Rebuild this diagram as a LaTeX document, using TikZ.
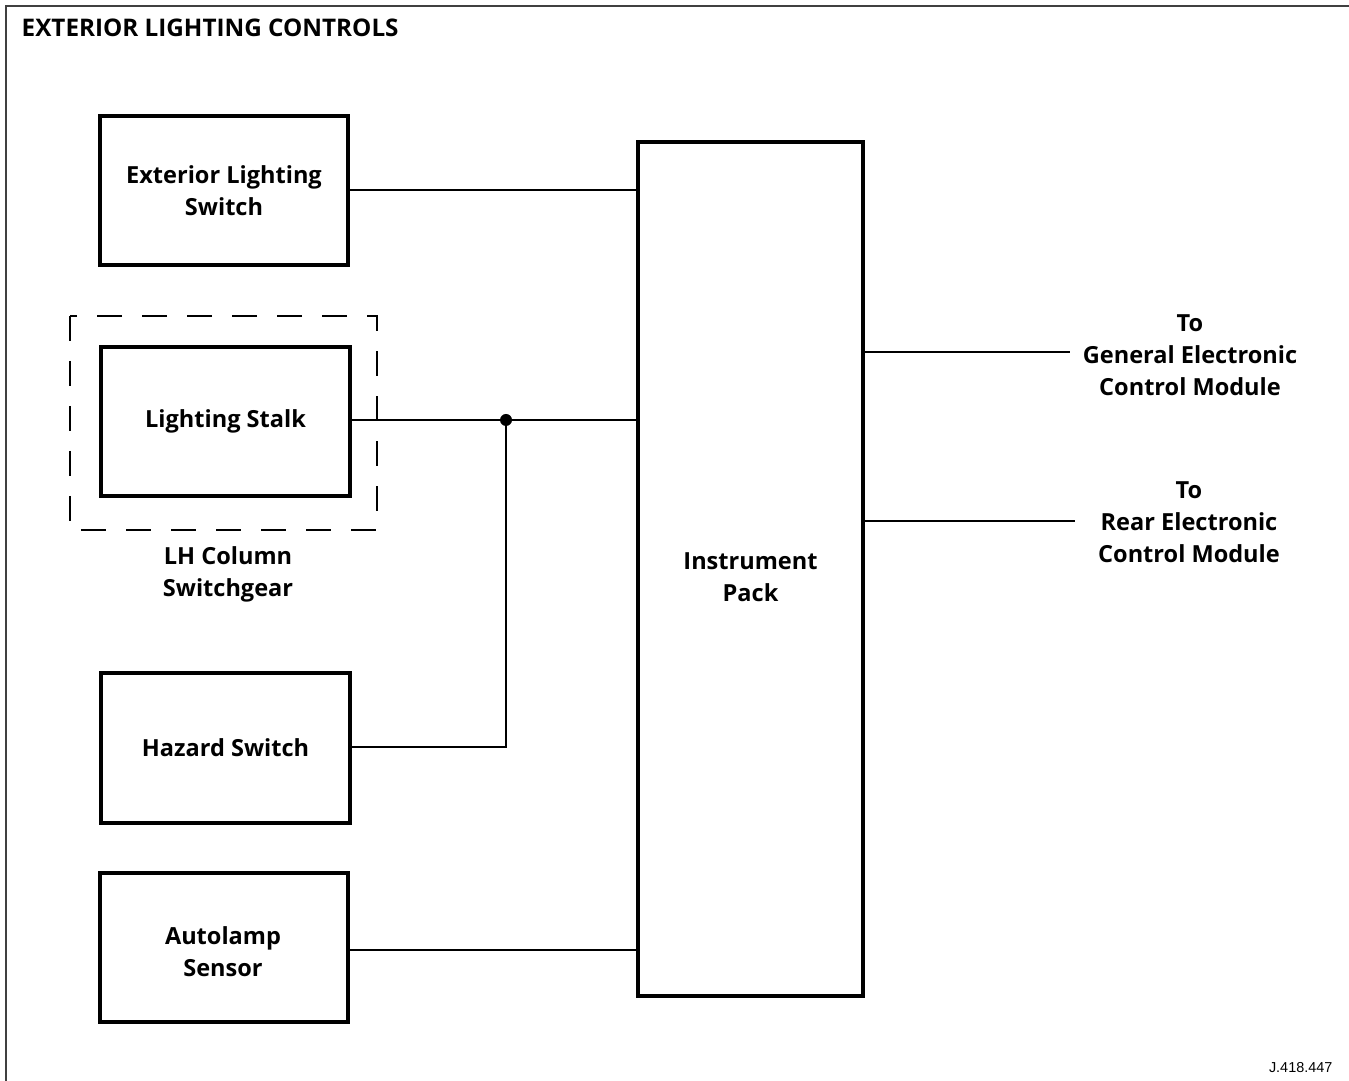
\documentclass[tikz,border=0pt]{standalone}
\usepackage{fontspec}
\setmainfont{Open Sans}[Ligatures=NoCommon]
\newfontfamily\codefont{Liberation Sans}
\usepackage{tikz}

\tikzset{
    caja/.style={draw, line width=0.9pt, minimum width=2.48cm, minimum height=1.49cm,
        align=center, inner sep=0pt, font=\bfseries\fontsize{6.7}{9.1}\selectfont},
    rotulo/.style={align=center, inner sep=0pt, font=\bfseries\fontsize{6.7}{9.1}\selectfont},
    cable/.style={line width=0.55pt}
}

\begin{document}
\begin{tikzpicture}[line join=miter]

\useasboundingbox (0,0) rectangle (13.49,-10.81);

% === MARCO Y TITULO ===
\draw[line width=0.6pt, black!75] (0.06,-10.81) -- (0.06,-0.06) -- (13.49,-0.06);
\node[rotulo, anchor=base west, font=\bfseries\fontsize{6.9}{9}\selectfont] (titulo) at (0.21,-0.37) {EXTERIOR LIGHTING CONTROLS};

% === ENTRADAS (izquierda) ===
\node[caja] (elswitch) at (2.24,-1.905) {Exterior Lighting\\Switch};
\node[caja, minimum width=2.49cm] (stalk) at (2.255,-4.215) {Lighting Stalk};
\node[caja, minimum width=2.49cm, minimum height=1.50cm] (hazard) at (2.255,-7.48) {Hazard Switch};
\node[caja] (autolamp) at (2.24,-9.475) {};
\node[rotulo] (autolamptxt) at (2.23,-9.515) {Autolamp\\Sensor};

% Grupo de la columna (punteado)
\draw[line width=0.6pt, dash pattern=on 0.25cm off 0.2cm] (0.70,-3.16) rectangle (3.77,-5.30);
\node[rotulo] (columna) at (2.28,-5.74) {LH Column\\Switchgear};

% === INSTRUMENT PACK ===
\node[caja, minimum width=2.25cm, minimum height=8.54cm] (ipack) at (7.505,-5.69) {};
\node[rotulo] (ipacktxt) at (7.505,-5.77) {Instrument\\Pack};

% Conexiones
\coordinate (nodo) at (5.06,-4.20);
\draw[cable] (elswitch.east |- 0,-1.90) -- (ipack.west |- 0,-1.90);
\draw[cable] (stalk.east |- nodo) -- (nodo) -- (ipack.west |- nodo);
\draw[cable] (hazard.east |- 0,-7.47) -| (nodo);
\fill (nodo) circle (0.06);
\draw[cable] (autolamp.east |- 0,-9.50) -- (ipack.west |- 0,-9.50);

% === SALIDAS (derecha) ===
\coordinate (gecm) at (10.70,-3.52);
\coordinate (recm) at (10.75,-5.21);
\draw[cable] (ipack.east |- gecm) -- (gecm);
\draw[cable] (ipack.east |- recm) -- (recm);
\node[rotulo] (gecmtxt) at (11.90,-3.55) {To\\General Electronic\\Control Module};
\node[rotulo] (recmtxt) at (11.89,-5.22) {To\\Rear Electronic\\Control Module};

% Referencia
\node[anchor=base east, inner sep=0pt, font=\codefont\fontsize{4.1}{5}\selectfont] (ref) at (13.33,-10.72) {J.418.447};

\end{tikzpicture}
\end{document}
